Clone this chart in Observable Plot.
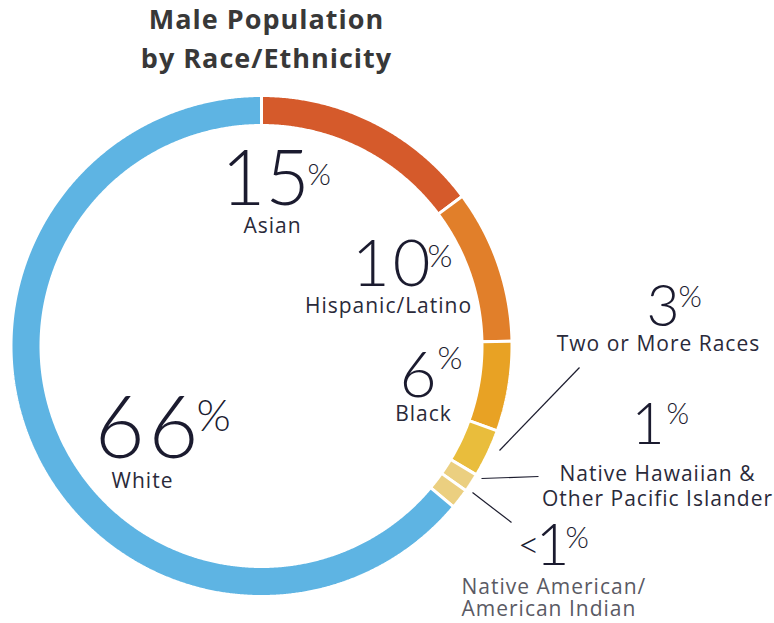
<!DOCTYPE html>
<html><head><meta charset="utf-8">
<script src="https://cdn.jsdelivr.net/npm/d3@7"></script>
<script src="https://cdn.jsdelivr.net/npm/@observablehq/plot@0.6"></script>
<style>
html,body{margin:0;padding:0;background:#fff;}
#chart{width:774px;height:623px;}
</style></head><body><div id="chart"></div>
<script>
// ---- data ----
const categories = ["Asian","Hispanic/Latino","Black","Two or More Races","Native Hawaiian & Other Pacific Islander","Native American/American Indian","White"];
const shares = [14.8, 9.9, 5.8, 3.1, 1.2, 1.3, 63.9];
const pctLabels = ["15","10","6","3","1","<1","66"];
const labelTexts = ["Asian","Hispanic/Latino","Black","Two or More Races","Native Hawaiian &\nOther Pacific Islander","Native American/\nAmerican Indian","White"];
const colors = ["#d55a2b","#e17f2a","#e8a224","#e9bd3c","#ebcf80","#ebcf80","#5eb4e3"];
const titleLines = ["Male Population","by Race/Ethnicity"];

// ---- layout (pixels) ----
const cx = 261, cy = 345.5, R = 249, r0 = 222, gap = 3;
const numLayout = [ // right edge, baseline, size, letter-spacing
  {x:309,y:204,s:76,ls:0},{x:430,y:285,s:65,ls:3},{x:436,y:396,s:64,ls:0},{x:679,y:325,s:57,ls:0},
  {x:664,y:443,s:57,ls:0},{x:569,y:565,s:58,ls:0},{x:198,y:457,s:86,ls:4}];
const pctLayout = [
  {x:307,y:184,s:30},{x:427,y:266,s:32},{x:437,y:368,s:32},{x:678,y:306,s:30},
  {x:666,y:423,s:29},{x:565,y:547,s:30},{x:196,y:430,s:44}];
const lblLayout = [
  {x:272,y:232,a:"middle"},{x:388,y:312,a:"middle"},{x:423,y:420,a:"middle"},{x:658,y:350,a:"middle"},
  {x:657,y:505,a:"middle"},{x:461,y:615,a:"start"},{x:142,y:487,a:"middle"}];
const leaderLayout = [
  {x1:499,y1:450,x2:579,y2:367},{x1:481,y1:478,x2:538,y2:476},{x1:472,y1:492,x2:511,y2:522}];

// ---- build ring polygons from shares ----
const total = d3.sum(shares);
const ringPts = [];
let cum = 0;
shares.forEach((v,i) => {
  const a0 = cum/total*2*Math.PI, a1 = (cum+v)/total*2*Math.PI;
  cum += v;
  const n = Math.max(2, Math.ceil((a1-a0)/0.005));
  const ro = R + gap/2, ri = r0 - gap/2;
  for (let k=0;k<=n;k++){ const a=a0+(a1-a0)*k/n; ringPts.push({cat:categories[i], x:cx+ro*Math.sin(a), y:cy-ro*Math.cos(a)}); }
  for (let k=n;k>=0;k--){ const a=a0+(a1-a0)*k/n; ringPts.push({cat:categories[i], x:cx+ri*Math.sin(a), y:cy-ri*Math.cos(a)}); }
});

const nums = pctLabels.map((t,i)=>({t, ...numLayout[i]}));
const pcts = pctLabels.map((t,i)=>({t:"%", ...pctLayout[i]}));
const lbls = labelTexts.map((t,i)=>({t, ...lblLayout[i]}));
const titles = titleLines.map((t,i)=>({t, x:266, y:[28,67][i]}));

const labelFont = "'Open Sans', sans-serif";
const chart = Plot.plot({
  width: 774, height: 623, margin: 0,
  x: {domain:[0,774], range:[0,774], axis:null},
  y: {domain:[0,623], range:[0,623], axis:null},
  color: {domain: categories, range: colors},
  style: {fontFamily: "Lato, sans-serif", background: "#fff"},
  marks: [
    Plot.line(ringPts, {x:"x", y:"y", z:"cat", fill:"cat", stroke:"white", strokeWidth:gap, curve:"linear-closed", strokeLinejoin:"miter"}),
    Plot.link(leaderLayout, {x1:"x1", y1:"y1", x2:"x2", y2:"y2", stroke:"#1c1c2e", strokeWidth:1.2}),
    Plot.text(nums, {x:"x", y:"y", text:"t", fontSize:"s", textAnchor:"end", lineAnchor:"bottom", fill:"#1b1b2f", fontWeight:300}),
    Plot.text(pcts, {x:"x", y:"y", text:"t", fontSize:"s", textAnchor:"start", lineAnchor:"bottom", fill:"#1b1b2f", fontWeight:300}),
    Plot.text(lbls.filter(d=>d.a==="middle"), {x:"x", y:"y", text:"t", fontSize:21, fontFamily:labelFont, lineHeight:25/21, textAnchor:"middle", lineAnchor:"bottom", fill:"#2a2a3a"}),
    Plot.text(lbls.filter(d=>d.a==="start"), {x:"x", y:"y", text:"t", fontSize:21, fontFamily:labelFont, lineHeight:22/21, textAnchor:"start", lineAnchor:"bottom", fill:"#5a5a64"}),
    Plot.text(titles, {x:"x", y:"y", text:"t", fontSize:27, fontFamily:labelFont, fontWeight:"bold", textAnchor:"middle", lineAnchor:"bottom", fill:"#383838"})
  ]
});
// fine typographic touches
const groups = chart.querySelectorAll(":scope > g");
groups[4].setAttribute("letter-spacing", "1");
groups[5].setAttribute("letter-spacing", "1");
groups[6].setAttribute("letter-spacing", "1");
const numTexts = groups[2].querySelectorAll("text");
numTexts.forEach((el, i) => {
  const d = nums[i];
  if (d.ls) { el.setAttribute("letter-spacing", d.ls); el.setAttribute("dx", d.ls); }
  if (d.t.startsWith("<")) {
    el.textContent = "";
    const ns = "http://www.w3.org/2000/svg";
    const a = document.createElementNS(ns, "tspan"); a.textContent = "<"; a.setAttribute("font-size", "0.66em"); a.setAttribute("dy", "-0.2em");
    const b = document.createElementNS(ns, "tspan"); b.textContent = d.t.slice(1); b.setAttribute("dy", "0.13em"); b.setAttribute("dx", "-4");
    el.appendChild(a); el.appendChild(b);
  }
});
document.getElementById("chart").appendChild(chart);
</script></body></html>
